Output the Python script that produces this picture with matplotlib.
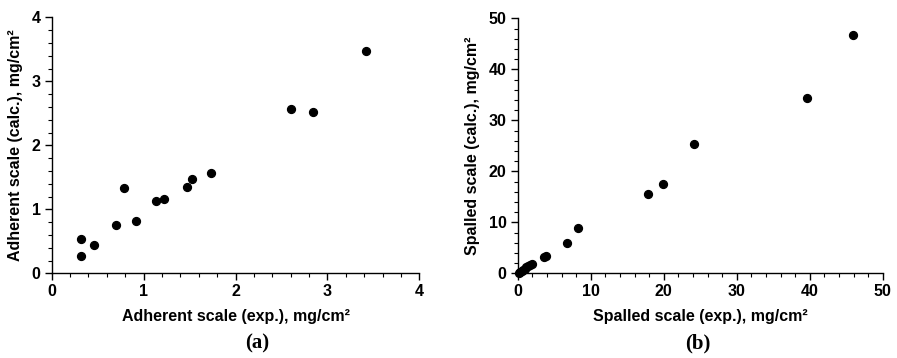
import matplotlib.pyplot as plt
from matplotlib.ticker import MultipleLocator

# Adherent scale, experiment vs calculated (mg/cm2)
adh_exp = [0.32, 0.32, 0.46, 0.70, 0.79, 0.92, 1.13, 1.22, 1.47, 1.53, 1.73, 2.60, 2.84, 3.42]
adh_calc = [0.27, 0.54, 0.44, 0.76, 1.34, 0.81, 1.13, 1.16, 1.35, 1.47, 1.57, 2.56, 2.52, 3.48]

# Spalled scale, experiment vs calculated (mg/cm2)
spl_exp = [0.2, 0.35, 0.55, 0.75, 0.95, 1.2, 1.45, 1.7, 1.95, 3.6, 3.85, 6.7, 8.3, 17.9, 19.9, 24.1, 39.6, 45.9]
spl_calc = [0.15, 0.3, 0.5, 0.7, 0.9, 1.15, 1.4, 1.6, 1.8, 3.2, 3.4, 5.9, 8.8, 15.6, 17.5, 25.3, 34.4, 46.7]

plt.rcParams['font.family'] = 'Liberation Sans'
plt.rcParams['font.weight'] = 'bold'

fig = plt.figure(figsize=(8.97, 3.58), dpi=100)
W, H = 897, 358
ax1 = fig.add_axes([51.7 / W, 1 - 273.3 / H, (419.3 - 51.7) / W, (273.3 - 17.3) / H])
ax2 = fig.add_axes([517.7 / W, 1 - 273.3 / H, (882.7 - 517.7) / W, (273.3 - 18.3) / H])


def style(ax, lim, major, minor, xlabel, ylabel):
    ax.set_xlim(0, lim)
    ax.set_ylim(0, lim)
    ax.xaxis.set_major_locator(MultipleLocator(major))
    ax.yaxis.set_major_locator(MultipleLocator(major))
    ax.xaxis.set_minor_locator(MultipleLocator(minor))
    ax.yaxis.set_minor_locator(MultipleLocator(minor))
    for s in ['top', 'right']:
        ax.spines[s].set_visible(False)
    for s in ['left', 'bottom']:
        ax.spines[s].set_linewidth(1.0)
    ax.tick_params(which='major', length=5, width=1, labelsize=11.5, pad=3)
    ax.tick_params(which='minor', length=3, width=0.8)
    ax.set_xlabel(xlabel, fontsize=11.5, fontweight='bold', labelpad=7)
    ax.set_ylabel(ylabel, fontsize=11.5, fontweight='bold', labelpad=6)
    for lab in ax.get_xticklabels() + ax.get_yticklabels():
        lab.set_fontweight('bold')


ax1.scatter(adh_exp, adh_calc, s=32, color='black', clip_on=False, zorder=3)
style(ax1, 4, 1, 0.2, 'Adherent scale (exp.), mg/cm²', 'Adherent scale (calc.), mg/cm²')

ax2.scatter(spl_exp, spl_calc, s=32, color='black', clip_on=False, zorder=3)
style(ax2, 50, 10, 2, 'Spalled scale (exp.), mg/cm²', 'Spalled scale (calc.), mg/cm²')

fig.text(257 / W, 1 - 343 / H, '(a)', ha='center', va='center',
         fontsize=15, fontweight='bold', family='Liberation Serif')
fig.text(698 / W, 1 - 343 / H, '(b)', ha='center', va='center',
         fontsize=15, fontweight='bold', family='Liberation Serif')

fig.savefig('out.png', dpi=100)
